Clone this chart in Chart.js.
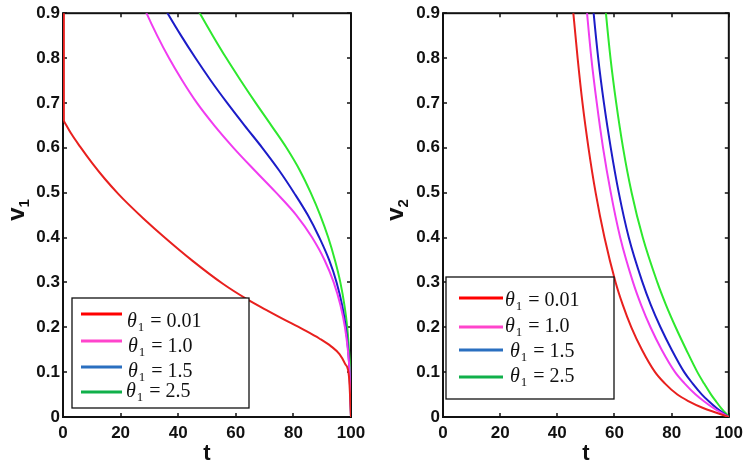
<!DOCTYPE html>
<html>
<head>
<meta charset="utf-8">
<script src="https://cdn.jsdelivr.net/npm/chart.js@4.4.1/dist/chart.umd.min.js"></script>
<style>
  html, body { margin: 0; padding: 0; background: #fff; }
  #wrap { position: relative; width: 749px; height: 466px; }
  canvas { position: absolute; top: 0; }
</style>
</head>
<body>
<div id="wrap">
  <canvas id="left" width="375" height="466" style="left:0"></canvas>
  <canvas id="right" width="374" height="466" style="left:375px"></canvas>
</div>
<script>
// ticks
const xTicks = [0, 20, 40, 60, 80, 100];
const yTicks = [0, 0.1, 0.2, 0.3, 0.4, 0.5, 0.6, 0.7, 0.8, 0.9];

// legend
const thetaValues = ["0.01", "1.0", "1.5", "2.5"];
const lineColors = ["#e8201e", "#f03cf0", "#1c1cc8", "#2ee82e"];
const legendColors = ["#ff0000", "#ff44cc", "#2a6fc0", "#10b04a"];

// v1 panel
const v1RedT = [0.3, 3, 6, 10, 14.5, 19.1, 22.6, 28, 35.5, 45, 55.5, 64.3, 71.3, 78, 84, 89, 93, 96, 98, 99.3, 100];
const v1RedV = [0.66, 0.63, 0.602, 0.567, 0.531, 0.498, 0.475, 0.442, 0.399, 0.348, 0.297, 0.261, 0.236, 0.213, 0.193, 0.175, 0.158, 0.14, 0.118, 0.09, 0];
// red jump at the start
const v1RedEdgeT = [0.3, 0.3];
const v1RedEdgeV = [0.66, 0.95];
const v1Levels = [0.94, 0.9, 0.85, 0.8, 0.75, 0.7, 0.65, 0.6, 0.55, 0.5, 0.45, 0.4, 0.35, 0.3, 0.25, 0.2, 0.15, 0.1, 0];
const v1MagT = [26.4, 29.0, 32.7, 36.8, 41.4, 46.5, 52.5, 59.2, 66.5, 74.0, 81.0, 86.5, 90.8, 94.0, 96.3, 97.9, 98.9, 99.5, 100];
const v1BlueT = [32.7, 36.3, 41.0, 46.0, 51.3, 57.0, 63.0, 69.2, 75.0, 80.2, 85.0, 89.0, 92.4, 95.0, 96.9, 98.2, 99.0, 99.5, 100];
const v1GreenT = [43.9, 47.5, 52.0, 56.7, 61.7, 66.9, 72.3, 77.6, 82.2, 86.0, 89.3, 92.1, 94.4, 96.3, 97.7, 98.7, 99.3, 99.7, 100];

// v2 panel
const v2Levels = [0.95, 0.9, 0.8, 0.7, 0.6, 0.5, 0.4, 0.3, 0.25, 0.2, 0.15, 0.1, 0.075, 0.05, 0.035, 0.02, 0.01, 0];
const v2RedT = [44.9, 45.6, 47.1, 48.8, 50.9, 53.4, 56.5, 60.4, 62.9, 65.9, 69.6, 74.2, 77.6, 82.0, 86.0, 91.0, 95.4, 100];
const v2MagT = [49.7, 50.4, 51.9, 53.8, 56.0, 58.7, 62.0, 66.5, 69.3, 72.6, 76.5, 81.2, 84.5, 88.4, 91.3, 94.6, 97.2, 100];
const v2BlueT = [52.0, 52.7, 54.3, 56.3, 58.7, 61.5, 65.0, 69.8, 72.7, 76.1, 80.0, 84.4, 87.3, 90.6, 93.0, 95.7, 97.8, 100];
const v2GreenT = [56.3, 57.0, 58.6, 60.6, 63.0, 66.0, 69.9, 75.0, 78.0, 81.4, 85.1, 89.0, 91.3, 93.8, 95.5, 97.3, 98.7, 100];

const pts = (t, v) => t.map((x, i) => ({ x: x, y: v[i] }));

const sans = '"Liberation Sans", Arial, Helvetica, sans-serif';
const serif = '"Liberation Serif", "Times New Roman", serif';

function drawLabel(ctx, x, y, value) {
  ctx.textAlign = 'left';
  ctx.textBaseline = 'alphabetic';
  ctx.font = 'italic 20px ' + serif;
  ctx.fillText('θ', x, y);
  let cx = x + ctx.measureText('θ').width + 1;
  ctx.font = '13px ' + serif;
  ctx.fillText('1', cx, y + 4);
  cx += ctx.measureText('1').width + 6;
  ctx.font = '20px ' + serif;
  ctx.fillText('=', cx, y);
  cx += ctx.measureText('=').width + 5;
  ctx.fillText(value, cx, y);
}

const framePlugin = {
  id: 'frame',
  beforeDatasetsDraw(chart) {
    const { ctx, chartArea: a, scales } = chart;
    ctx.save();
    ctx.strokeStyle = '#111';
    ctx.lineWidth = 2;
    ctx.strokeRect(a.left, a.top, a.right - a.left, a.bottom - a.top);
    ctx.lineWidth = 1.5;
    ctx.beginPath();
    xTicks.forEach(t => {
      const px = Math.round(scales.x.getPixelForValue(t));
      ctx.moveTo(px, a.bottom); ctx.lineTo(px, a.bottom - 4);
      ctx.moveTo(px, a.top); ctx.lineTo(px, a.top + 4);
    });
    yTicks.forEach(v => {
      const py = Math.round(scales.y.getPixelForValue(v));
      ctx.moveTo(a.left, py); ctx.lineTo(a.left + 4, py);
      ctx.moveTo(a.right, py); ctx.lineTo(a.right - 4, py);
    });
    ctx.stroke();
    ctx.restore();
  },
  afterDraw(chart, args, opts) {
    const { ctx, chartArea: a } = chart;
    ctx.save();
    // x title
    ctx.fillStyle = '#111';
    ctx.font = 'bold 22px ' + sans;
    ctx.textAlign = 'center';
    ctx.textBaseline = 'alphabetic';
    ctx.fillText('t', (a.left + a.right) / 2, 460);
    // y title with subscript
    ctx.save();
    ctx.translate(opts.yTitleX, opts.yTitleY);
    ctx.rotate(-Math.PI / 2);
    ctx.font = 'bold 24px ' + sans;
    const wv = ctx.measureText('v').width;
    ctx.font = 'bold 15px ' + sans;
    const w1 = ctx.measureText('1').width;
    const x0 = -(wv + w1) / 2;
    ctx.textAlign = 'left';
    ctx.font = 'bold 24px ' + sans;
    ctx.fillText('v', x0, 6);
    ctx.font = 'bold 15px ' + sans;
    ctx.fillText(opts.sub, x0 + wv, 11);
    ctx.restore();
    // legend box
    const L = opts.legend;
    ctx.fillStyle = '#fff';
    ctx.fillRect(L.x1, L.y1, L.x2 - L.x1, L.y2 - L.y1);
    ctx.strokeStyle = '#111';
    ctx.lineWidth = 1.3;
    ctx.strokeRect(L.x1, L.y1, L.x2 - L.x1, L.y2 - L.y1);
    thetaValues.forEach((val, i) => {
      ctx.strokeStyle = legendColors[i];
      ctx.lineWidth = 3;
      ctx.beginPath();
      ctx.moveTo(L.lx1, L.ly[i]);
      ctx.lineTo(L.lx2, L.ly[i]);
      ctx.stroke();
      ctx.fillStyle = '#111';
      drawLabel(ctx, L.tx[i], L.tb[i], val);
    });
    ctx.restore();
  }
};

function makeChart(id, series, plotLeft, padRight, frameOpts) {
  const datasets = series.map(s => ({
    data: s.data,
    borderColor: lineColors[s.color],
    borderWidth: 2,
    pointRadius: 0,
    fill: false,
    tension: 0,
    cubicInterpolationMode: s.straight ? 'default' : 'monotone'
  }));
  return new Chart(document.getElementById(id), {
    type: 'line',
    data: { datasets: datasets },
    plugins: [framePlugin],
    options: {
      responsive: false,
      animation: false,
      layout: { padding: { left: 0, top: 12, right: padRight, bottom: 0 } },
      plugins: {
        legend: { display: false },
        tooltip: { enabled: false },
        frame: frameOpts
      },
      scales: {
        x: {
          type: 'linear',
          min: 0, max: 100,
          afterFit: s => { s.height = 49; },
          afterBuildTicks: s => { s.ticks = xTicks.map(v => ({ value: v })); },
          grid: { display: false, drawTicks: false },
          border: { display: false },
          ticks: { color: '#111', padding: 6, maxRotation: 0, font: { family: sans, size: 17, weight: 'bold' } }
        },
        y: {
          type: 'linear',
          min: 0, max: 0.9,
          afterFit: s => { s.width = plotLeft; },
          afterBuildTicks: s => { s.ticks = yTicks.map(v => ({ value: v })); },
          grid: { display: false, drawTicks: false },
          border: { display: false },
          ticks: {
            color: '#111', padding: 3,
            font: { family: sans, size: 17, weight: 'bold' },
            callback: v => String(Math.round(v * 10) / 10)
          }
        }
      }
    }
  });
}

makeChart('left', [
  { data: pts(v1RedEdgeT, v1RedEdgeV), color: 0, straight: true },
  { data: pts(v1RedT, v1RedV), color: 0 },
  { data: pts(v1MagT, v1Levels), color: 1 },
  { data: pts(v1BlueT, v1Levels), color: 2 },
  { data: pts(v1GreenT, v1Levels), color: 3 }
], 63, 24, {
  sub: '1', yTitleX: 18, yTitleY: 210,
  legend: { x1: 72, y1: 298, x2: 249, y2: 408, lx1: 81, lx2: 122,
    ly: [314, 341, 367, 392], tx: [127, 128, 128, 126], tb: [327, 352, 377, 397] }
});

makeChart('right', [
  { data: pts(v2RedT, v2Levels), color: 0 },
  { data: pts(v2MagT, v2Levels), color: 1 },
  { data: pts(v2BlueT, v2Levels), color: 2 },
  { data: pts(v2GreenT, v2Levels), color: 3 }
], 68, 18, {
  sub: '2', yTitleX: 22, yTitleY: 210,
  legend: { x1: 71, y1: 277, x2: 239, y2: 399, lx1: 84, lx2: 128,
    ly: [298, 327, 350, 377], tx: [130, 130, 135, 135], tb: [306, 332, 357, 382] }
});
</script>
</body>
</html>
